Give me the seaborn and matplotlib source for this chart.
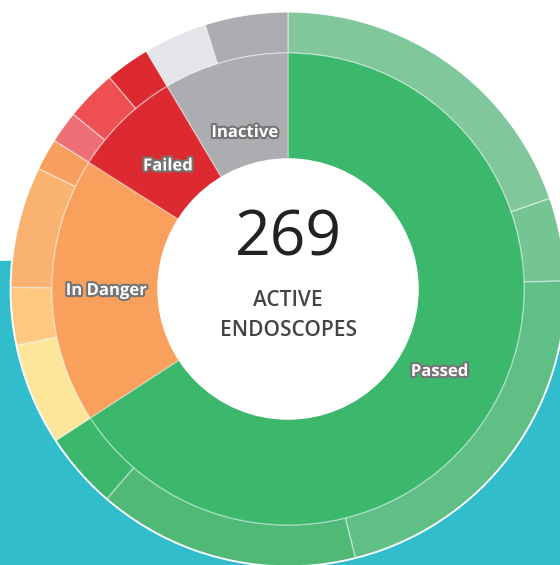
import numpy as np
import matplotlib
matplotlib.use("Agg")
import matplotlib.pyplot as plt
import matplotlib.patheffects as pe
from matplotlib.patches import Rectangle, Circle
import seaborn as sns

# inner ring: status of the endoscopes
status = ["Passed", "In Danger", "Failed", "Inactive"]
status_counts = [177, 49, 20, 23]
status_colors = ["#3cb86c", "#f9a05d", "#dd2a31", "#abadb0"]
label_dist = [0.73, 0.77, 0.73, 0.69]

# outer ring: breakdown inside each status
detail_counts = [53, 13, 58, 41, 12,   # Passed
                 16, 9, 19, 5,         # In Danger
                 5, 8, 7,              # Failed
                 10, 13]               # Inactive
detail_colors = ["#80c89b", "#74c592", "#60bf85", "#50b977", "#3cb86c",
                 "#fde59a", "#fdc880", "#f9b26f", "#f7a05d",
                 "#ef6f77", "#ee4f53", "#dd2a31",
                 "#e3e5e8", "#abadb0"]

total = 269

sns.set_theme(style="white")
plt.rcParams["font.family"] = ["Open Sans", "DejaVu Sans"]

fig = plt.figure(figsize=(5.6, 5.65), dpi=100)
ax = fig.add_axes([0, 0, 1, 1])

# teal band behind the lower part of the chart
ax.add_patch(Rectangle((0, 0), 560, 304, color="#31bdcc", zorder=0))

cx, cy = 288, 276
r_out, r_mid, r_in = 277, 236, 130

ax.pie(detail_counts, colors=detail_colors, radius=r_out, center=(cx, cy),
       startangle=90, counterclock=False,
       wedgeprops=dict(width=r_out - r_mid, edgecolor=(1, 1, 1, 0.45), linewidth=1))

wedges, texts = ax.pie(status_counts, colors=status_colors, radius=r_mid, center=(cx, cy),
                       startangle=90, counterclock=False, labels=status,
                       wedgeprops=dict(width=r_mid - r_in, edgecolor=(1, 1, 1, 0.35), linewidth=1),
                       textprops=dict(color="white", fontsize=12, fontweight="bold"))
for w, t, d in zip(wedges, texts, label_dist):
    mid = np.deg2rad((w.theta1 + w.theta2) / 2)
    t.set_position((cx + d * r_mid * np.cos(mid), cy + d * r_mid * np.sin(mid)))
    t.set_ha("center")
    t.set_va("center")
    t.set_path_effects([pe.withStroke(linewidth=3, foreground="#747474")])

ax.add_patch(Circle((cx, cy), r_in, color="white", zorder=3))
ax.add_patch(Circle((cx, cy), r_out + 0.5, fill=False, edgecolor="white", linewidth=1.2, zorder=3))

ax.text(cx, 326, "269", ha="center", va="center", fontsize=45, color="#222222", zorder=4)
ax.text(cx, 265, "ACTIVE", ha="center", va="center", fontsize=15, color="#444444",
        fontweight="semibold", zorder=4)
ax.text(cx, 235, "ENDOSCOPES", ha="center", va="center", fontsize=15, color="#444444",
        fontweight="semibold", zorder=4)

ax.set_xlim(0, 560)
ax.set_ylim(0, 565)
ax.set_aspect("auto")
ax.axis("off")

fig.savefig("out.png", dpi=100)
